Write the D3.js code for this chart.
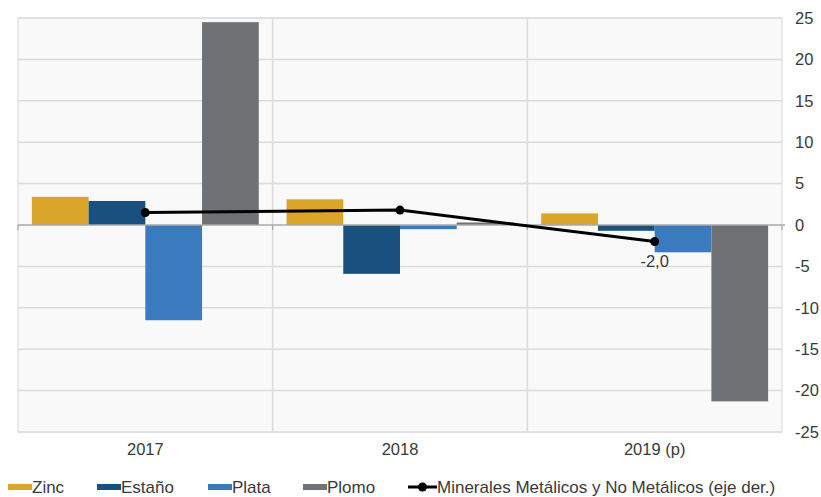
<!DOCTYPE html>
<html><head><meta charset="utf-8">
<script src="https://cdn.jsdelivr.net/npm/d3@7"></script>
<style>
html,body{margin:0;padding:0;background:#fff;}
text{font-family:"Liberation Sans",Arial,Helvetica,sans-serif;fill:#3a3a3a;}
</style></head>
<body><svg id="c" width="821" height="497"></svg>
<script>
const categories = ["2017", "2018", "2019 (p)"];
const seriesNames = ["Zinc", "Estaño", "Plata", "Plomo"];
const zinc   = [3.4, 3.1, 1.4];
const estano = [2.9, -5.9, -0.7];
const plata  = [-11.5, -0.5, -3.3];
const plomo  = [24.5, 0.3, -21.3];
const lineName = "Minerales Metálicos y No Metálicos (eje der.)";
const lineValues = [1.5, 1.8, -2.0];
const yTicks = [25, 20, 15, 10, 5, 0, -5, -10, -15, -20, -25];
const colors = ["#DAA62A", "#18507F", "#3A7BC0", "#6F7275"];

const seriesValues = [zinc, estano, plata, plomo];
const svg = d3.select("#c");
const L = 18, R = 782, T = 18, B = 432;
const fs = "16.5px";

const x0 = d3.scaleBand().domain(categories).range([L, R]).padding(0);
const x1 = d3.scaleBand().domain(seriesNames).range([0, x0.bandwidth()]).paddingInner(0).paddingOuter(0.245);
const y = d3.scaleLinear().domain([-25, 25]).range([B, T]);

// plot background
svg.append("rect").attr("x", L).attr("y", T).attr("width", R - L).attr("height", B - T)
  .attr("fill", "#f9f9f9").attr("stroke", "#dadada").attr("stroke-width", 1);

// horizontal gridlines
svg.append("g").selectAll("line").data(yTicks.filter(d => d !== 0)).join("line")
  .attr("x1", L).attr("x2", R).attr("y1", d => y(d)).attr("y2", d => y(d))
  .attr("stroke", "#dcdcdc").attr("stroke-width", 1.5);

// vertical separators
svg.append("g").selectAll("line").data(categories.slice(1)).join("line")
  .attr("x1", d => x0(d)).attr("x2", d => x0(d)).attr("y1", T).attr("y2", B)
  .attr("stroke", "#dcdcdc").attr("stroke-width", 1.5);

// bars
const rows = [];
categories.forEach((c, i) => seriesNames.forEach((s, j) => rows.push({c, s, j, v: seriesValues[j][i]})));
svg.append("g").selectAll("rect").data(rows).join("rect")
  .attr("x", d => x0(d.c) + x1(d.s))
  .attr("width", x1.bandwidth())
  .attr("y", d => y(Math.max(0, d.v)))
  .attr("height", d => Math.abs(y(d.v) - y(0)))
  .attr("fill", d => colors[d.j]);

// zero line with boundary ticks
svg.append("line").attr("x1", L).attr("x2", R + 3).attr("y1", y(0)).attr("y2", y(0))
  .attr("stroke", "#a8a8a8").attr("stroke-width", 1.5);
const bounds = [L, ...categories.slice(1).map(c => x0(c)), R];
svg.append("g").selectAll("line").data(bounds).join("line")
  .attr("x1", d => d).attr("x2", d => d).attr("y1", y(0)).attr("y2", y(0) + 5)
  .attr("stroke", "#a8a8a8").attr("stroke-width", 1.2);

// right axis labels
svg.append("g").selectAll("text").data(yTicks).join("text")
  .attr("x", 795).attr("y", d => y(d)).attr("dy", "0.35em")
  .style("font-size", fs).text(d => d);

// category labels
svg.append("g").selectAll("text").data(categories).join("text")
  .attr("x", d => x0(d) + x0.bandwidth() / 2).attr("y", 455)
  .attr("text-anchor", "middle").style("font-size", fs).text(d => d);

// line series
const cx = c => x0(c) + x0.bandwidth() / 2;
const lineData = categories.map((c, i) => ({c, v: lineValues[i]}));
svg.append("path").datum(lineData)
  .attr("d", d3.line().x(d => cx(d.c)).y(d => y(d.v)))
  .attr("fill", "none").attr("stroke", "#000").attr("stroke-width", 3);
svg.append("g").selectAll("circle").data(lineData).join("circle")
  .attr("cx", d => cx(d.c)).attr("cy", d => y(d.v)).attr("r", 4.5).attr("fill", "#000");

// data label for last point
const last = lineData[lineData.length - 1];
svg.append("text").attr("x", cx(last.c)).attr("y", y(last.v) + 20).attr("dy", "0.35em")
  .attr("text-anchor", "middle").style("font-size", fs)
  .text(d3.format(".1f")(last.v).replace(".", ",").replace("−", "-"));

// legend
const legendY = 487;
const legendItems = [
  {name: "Zinc", x: 8, color: colors[0]},
  {name: "Estaño", x: 97, color: colors[1]},
  {name: "Plata", x: 208, color: colors[2]},
  {name: "Plomo", x: 303, color: colors[3]}
];
const lg = svg.append("g");
legendItems.forEach(it => {
  lg.append("rect").attr("x", it.x).attr("y", legendY - 3).attr("width", 24).attr("height", 6).attr("fill", it.color);
  lg.append("text").attr("x", it.x + 24).attr("y", legendY).attr("dy", "0.35em").style("font-size", "17px").text(it.name);
});
lg.append("line").attr("x1", 408).attr("x2", 437).attr("y1", legendY).attr("y2", legendY).attr("stroke", "#000").attr("stroke-width", 3);
lg.append("circle").attr("cx", 422.5).attr("cy", legendY).attr("r", 4.5).attr("fill", "#000");
lg.append("text").attr("x", 437).attr("y", legendY).attr("dy", "0.35em").style("font-size", "17px").text(lineName);
</script></body></html>
